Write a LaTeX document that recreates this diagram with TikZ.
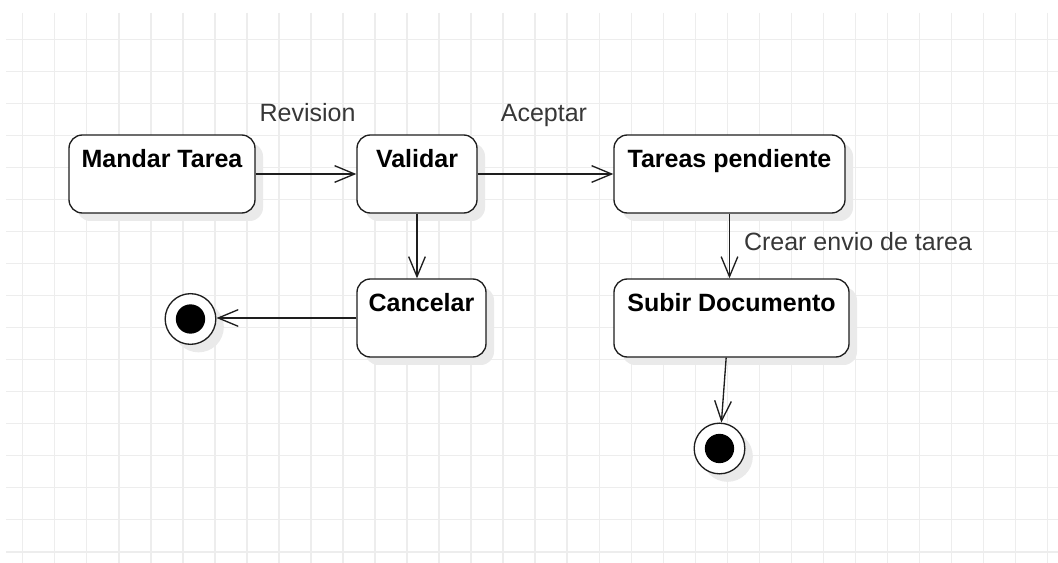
\documentclass[tikz,border=0pt]{standalone}
\usepackage{fontspec}
\setmainfont{Liberation Sans}
\usepackage{xcolor}
\usepackage{tikz}
\usetikzlibrary{arrows.meta,positioning,shadows}
\definecolor{linea}{RGB}{30,30,30}
\definecolor{rejilla}{RGB}{237,237,237}
\definecolor{sombra}{RGB}{234,234,234}
\definecolor{etiq}{RGB}{55,55,55}

\begin{document}
\begin{tikzpicture}[x=0.75pt,y=-0.75pt,font=\fontsize{18.75}{22}\selectfont,
 rej/.style={draw=rejilla,line width=1.1pt},
 est/.style={draw=linea,line width=1pt,fill=white,rounded corners=10pt,minimum height=58.5pt,
   inner xsep=0pt,inner ysep=0pt,text height=24.75pt,text depth=33.75pt,font=\fontsize{18.75}{22}\selectfont\bfseries,
   drop shadow={shadow xshift=6pt,shadow yshift=-6pt,fill=sombra,opacity=1}},
 fin/.style={circle,draw=linea,line width=1pt,fill=white,minimum size=38pt,inner sep=0pt,
   path picture={\fill[black] (path picture bounding box.center) circle (11pt);},
   drop shadow={shadow xshift=6pt,shadow yshift=-6pt,fill=sombra,opacity=1}},
 flecha/.style={draw=linea,line width=1pt,-{Straight Barb[length=15pt,width=12.5pt]}},
 lbl/.style={text=etiq,anchor=base,inner sep=0pt}]
 \fill[white] (0,0) rectangle (1058,563);
 \useasboundingbox (0,0) rectangle (1058,563);
 % rejilla
 \foreach \i in {0,...,32}
   \draw[rej] ({22.7+32.03*\i},13) -- ({22.7+32.03*\i},563);
 \foreach \j in {0,...,16}
   \draw[rej] (6,{39.3+32.03*\j}) -- (1058,{39.3+32.03*\j});
 % estados
 \node[est,minimum width=139.5pt] (mandar) at (162,174) {Mandar Tarea};
 \node[est,minimum width=90pt] (validar) at (417,174) {Validar};
 \node[est,minimum width=173.25pt] (pendiente) at (729.5,174) {Tareas pendiente};
 \node[est,minimum width=96.75pt] (cancelar) at (421.5,318) {Cancelar};
 \node[est,minimum width=176.25pt] (subir) at (731.5,318) {Subir Documento};
 \node[fin] (fin1) at (190.5,319) {};
 \node[fin] (fin2) at (719.5,448.5) {};
 % transiciones
 \draw[flecha] (mandar) -- (validar);
 \draw[flecha] (validar) -- (pendiente);
 \draw[flecha] (validar) -- (validar |- cancelar.north);
 \draw[flecha] (cancelar.west) -- (cancelar.west -| fin1.east);
 \draw[flecha] (pendiente) -- (pendiente |- subir.north);
 \draw[flecha] ([xshift=-4pt]subir.south) -- (fin2);
 \node[lbl] (revision) at (307.5,122) {Revision};
 \node[lbl] (aceptar) at (544,122) {Aceptar};
 \node[lbl] (crear) at (858,250.7) {Crear envio de tarea};
\end{tikzpicture}
\end{document}
